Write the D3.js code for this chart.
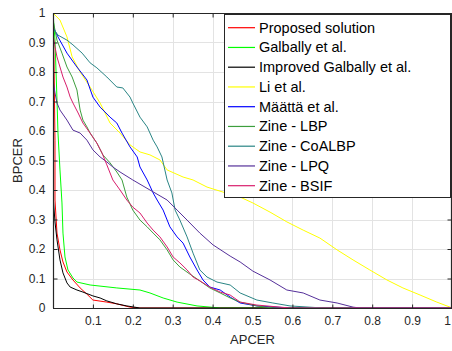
<!DOCTYPE html>
<html>
<head>
<meta charset="utf-8">
<script src="https://cdn.jsdelivr.net/npm/d3@7"></script>
<style>
  body { margin: 0; background: #fff; }
  svg { display: block; font-family: "Liberation Sans", Arial, sans-serif; }
</style>
</head>
<body>
<div id="chart"></div>
<script>
const w = 452
const h = 351

const names = ['Proposed solution', 'Galbally et al.', 'Improved Galbally et al.', 'Li et al.',
  'Määttä et al.', 'Zine - LBP', 'Zine - CoALBP', 'Zine - LPQ', 'Zine - BSIF']
const colors = ['#ff0000', '#00ff00', '#000000', '#ffff00', '#0000ff', '#3d9e3d', '#2a8585', '#55309a', '#d81e6c']

const xTicks = [0.1, 0.2, 0.3, 0.4, 0.5, 0.6, 0.7, 0.8, 0.9, 1]
const yTicks = [0, 0.1, 0.2, 0.3, 0.4, 0.5, 0.6, 0.7, 0.8, 0.9, 1]

// [APCER, BPCER]
const proposed = [[0,1],[0.0025,0.841],[0.005,0.569],[0.005,0.366],[0.01,0.254],[0.0175,0.197],[0.025,0.156],
  [0.035,0.122],[0.05,0.095],[0.068,0.068],[0.085,0.047],[0.1,0.027],[0.135,0.02],[0.16,0.014],[0.193,0.003],[0.218,0],[1,0]]
const galbally = [[0,1],[0.005,0.908],[0.01,0.705],[0.0125,0.593],[0.0175,0.468],[0.0225,0.356],[0.025,0.254],
  [0.03,0.173],[0.0375,0.129],[0.05,0.102],[0.06,0.088],[0.093,0.078],[0.16,0.068],[0.218,0.061],[0.243,0.051],
  [0.276,0.034],[0.311,0.02],[0.361,0.007],[0.419,0],[1,0]]
const improved = [[0,1],[0,0.603],[0.001,0.366],[0.005,0.292],[0.01,0.231],[0.0175,0.163],[0.025,0.119],[0.035,0.085],
  [0.043,0.071],[0.06,0.061],[0.075,0.054],[0.1,0.041],[0.118,0.034],[0.135,0.024],[0.16,0.014],[0.185,0.007],[0.218,0],[1,0]]
const li = [[0,1],[0.0175,0.976],[0.035,0.919],[0.048,0.851],[0.068,0.8],[0.093,0.749],[0.118,0.695],[0.143,0.627],
  [0.168,0.593],[0.193,0.553],[0.218,0.529],[0.243,0.519],[0.268,0.502],[0.286,0.468],[0.326,0.444],[0.351,0.434],
  [0.386,0.41],[0.426,0.393],[0.469,0.376],[0.501,0.356],[0.544,0.325],[0.586,0.292],[0.627,0.264],[0.669,0.237],
  [0.712,0.197],[0.752,0.163],[0.794,0.129],[0.837,0.095],[0.877,0.068],[0.92,0.044],[0.962,0.02],[0.995,0.003],[1,0]]
const maatta = [[0,0.953],[0.0125,0.919],[0.035,0.864],[0.06,0.817],[0.085,0.773],[0.1,0.715],[0.118,0.681],
  [0.143,0.647],[0.16,0.627],[0.173,0.593],[0.193,0.546],[0.211,0.512],[0.218,0.478],[0.236,0.434],[0.251,0.39],
  [0.261,0.366],[0.276,0.332],[0.293,0.275],[0.311,0.241],[0.326,0.22],[0.343,0.173],[0.361,0.129],[0.376,0.095],
  [0.393,0.071],[0.419,0.061],[0.444,0.037],[0.469,0.017],[0.511,0.007],[0.594,0],[1,0]]
const lbp = [[0,0.976],[0.01,0.908],[0.0225,0.864],[0.035,0.817],[0.048,0.783],[0.06,0.739],[0.068,0.671],
  [0.075,0.637],[0.085,0.614],[0.093,0.593],[0.11,0.559],[0.125,0.519],[0.143,0.492],[0.16,0.461],[0.173,0.434],
  [0.185,0.376],[0.2,0.332],[0.218,0.298],[0.236,0.275],[0.251,0.254],[0.268,0.231],[0.286,0.197],[0.301,0.163],
  [0.318,0.139],[0.343,0.115],[0.368,0.092],[0.393,0.068],[0.419,0.051],[0.444,0.034],[0.469,0.02],[0.511,0.007],[0.551,0],[1,0]]
const coalbp = [[0,0.949],[0.0125,0.925],[0.035,0.908],[0.05,0.892],[0.073,0.864],[0.093,0.831],[0.11,0.814],
  [0.135,0.783],[0.16,0.749],[0.175,0.746],[0.193,0.715],[0.2,0.695],[0.218,0.647],[0.236,0.614],[0.251,0.569],
  [0.261,0.546],[0.273,0.512],[0.286,0.434],[0.298,0.39],[0.306,0.332],[0.318,0.298],[0.336,0.241],[0.351,0.186],
  [0.368,0.129],[0.386,0.105],[0.411,0.088],[0.444,0.078],[0.469,0.051],[0.511,0.027],[0.551,0.017],[0.594,0.007],[0.677,0],[1,0]]
const lpq = [[0,0.773],[0.005,0.729],[0.01,0.695],[0.0175,0.671],[0.035,0.637],[0.05,0.603],[0.068,0.593],
  [0.085,0.569],[0.1,0.536],[0.118,0.512],[0.135,0.495],[0.15,0.478],[0.168,0.461],[0.2,0.434],[0.243,0.4],
  [0.286,0.366],[0.311,0.332],[0.336,0.298],[0.368,0.254],[0.401,0.214],[0.444,0.176],[0.469,0.156],[0.501,0.125],
  [0.544,0.095],[0.586,0.061],[0.627,0.051],[0.669,0.027],[0.712,0.017],[0.752,0.003],[0.769,0],[1,0]]
const bsif = [[0,0.932],[0.005,0.885],[0.01,0.851],[0.0175,0.817],[0.025,0.783],[0.035,0.749],[0.043,0.715],
  [0.05,0.695],[0.063,0.661],[0.075,0.627],[0.093,0.593],[0.11,0.559],[0.123,0.525],[0.135,0.485],[0.15,0.434],
  [0.168,0.4],[0.185,0.366],[0.2,0.342],[0.218,0.322],[0.236,0.288],[0.251,0.264],[0.268,0.241],[0.286,0.207],
  [0.301,0.173],[0.318,0.153],[0.336,0.129],[0.351,0.105],[0.368,0.092],[0.393,0.071],[0.419,0.054],[0.444,0.044],
  [0.469,0.02],[0.511,0.01],[0.594,0],[1,0]]

const series = [proposed, galbally, improved, li, maatta, lbp, coalbp, lpq, bsif]

const pLeft = 53, pRight = 452, pTop = 13, pBottom = 308
const axisColor = '#262626'

const svg = d3.select('#chart').append('svg')
  .attr('width', w)
  .attr('height', h)

const xScale = d3.scaleLinear().domain([0, 1]).range([pLeft, pRight])
const yScale = d3.scaleLinear().domain([0, 1]).range([pBottom, pTop])

// grid
svg.append('g')
  .selectAll('line')
  .data(xTicks.slice(0, -1))
  .enter()
  .append('line')
  .attr('x1', d => Math.round(xScale(d)) + 0.5)
  .attr('x2', d => Math.round(xScale(d)) + 0.5)
  .attr('y1', pTop)
  .attr('y2', pBottom)
  .attr('stroke', '#e3e3e3')
svg.append('g')
  .selectAll('line')
  .data(yTicks.slice(1, -1))
  .enter()
  .append('line')
  .attr('x1', pLeft)
  .attr('x2', pRight)
  .attr('y1', d => Math.round(yScale(d)) + 0.5)
  .attr('y2', d => Math.round(yScale(d)) + 0.5)
  .attr('stroke', '#e3e3e3')

svg.append('clipPath').attr('id', 'clip')
  .append('rect').attr('x', pLeft).attr('y', pTop - 1).attr('width', pRight - pLeft).attr('height', pBottom - pTop + 2)

const line = d3.line()
  .x(d => xScale(d[0]))
  .y(d => yScale(d[1]))

svg.append('g')
  .attr('clip-path', 'url(#clip)')
  .selectAll('path')
  .data(series)
  .enter()
  .append('path')
  .attr('d', line)
  .attr('fill', 'none')
  .attr('stroke', (d, i) => colors[i])
  .attr('stroke-width', 1)

// axes
const xb = svg.append('g')
  .attr('transform', 'translate(0,' + (pBottom + 0.5) + ')')
  .call(d3.axisBottom(xScale).tickValues(xTicks).tickSize(-4).tickPadding(8).tickFormat(d3.format('')))
const xt = svg.append('g')
  .attr('transform', 'translate(0,' + (pTop + 0.5) + ')')
  .call(d3.axisTop(xScale).tickValues(xTicks).tickSize(-4).tickFormat(''))
const yl = svg.append('g')
  .attr('transform', 'translate(' + (pLeft + 0.5) + ',0)')
  .call(d3.axisLeft(yScale).tickValues(yTicks).tickSize(-4).tickPadding(8).tickFormat(d3.format('')))
const yr = svg.append('g')
  .attr('transform', 'translate(' + (pRight - 0.5) + ',0)')
  .call(d3.axisRight(yScale).tickValues(yTicks).tickSize(-4).tickFormat(''))

;[xb, xt, yl, yr].forEach(g => {
  g.select('.domain').attr('stroke', axisColor).attr('stroke-width', 1.2)
  g.selectAll('.tick line').attr('stroke', axisColor)
  g.selectAll('text')
    .attr('fill', '#262626')
    .attr('font-size', '12px')
    .attr('font-family', '"Liberation Sans", Arial, sans-serif')
})
xb.select('.domain').attr('d', 'M' + pLeft + ',0H' + pRight)
xt.select('.domain').attr('d', 'M' + pLeft + ',0H' + pRight)
yl.select('.domain').attr('d', 'M0,' + pBottom + 'V' + pTop)
yr.select('.domain').attr('d', 'M0,' + pBottom + 'V' + pTop)
// last x label sits at the window edge, keep it inside
xb.selectAll('.tick text').filter(d => d === 1).attr('text-anchor', 'end').attr('dx', '-1.5')

svg.append('text')
  .attr('x', (pLeft + pRight) / 2)
  .attr('y', 344)
  .attr('text-anchor', 'middle')
  .attr('font-size', '13px')
  .attr('fill', '#262626')
  .text('APCER')
svg.append('text')
  .attr('transform', 'translate(22,' + ((pTop + pBottom) / 2) + ') rotate(-90)')
  .attr('text-anchor', 'middle')
  .attr('font-size', '13px')
  .attr('fill', '#262626')
  .text('BPCER')

// legend
const lx = 224, ly = 14, lw = 227, lh = 183
const legend = svg.append('g')
legend.append('rect')
  .attr('x', lx + 0.5)
  .attr('y', ly + 0.5)
  .attr('width', lw - 1)
  .attr('height', lh)
  .attr('fill', '#fff')
  .attr('stroke', axisColor)
  .attr('stroke-width', 1)

const items = legend.selectAll('g.item')
  .data(names)
  .enter()
  .append('g')
  .attr('transform', (d, i) => 'translate(0,' + (ly + 13.7 + i * 19.75) + ')')
items.append('line')
  .attr('x1', 228).attr('x2', 255)
  .attr('y1', 0).attr('y2', 0)
  .attr('stroke', (d, i) => colors[i])
  .attr('stroke-width', 1.2)
items.append('text')
  .attr('x', 259)
  .attr('y', 5)
  .attr('font-size', '14.5px')
  .attr('fill', '#000')
  .text(d => d)
</script>
</body>
</html>
